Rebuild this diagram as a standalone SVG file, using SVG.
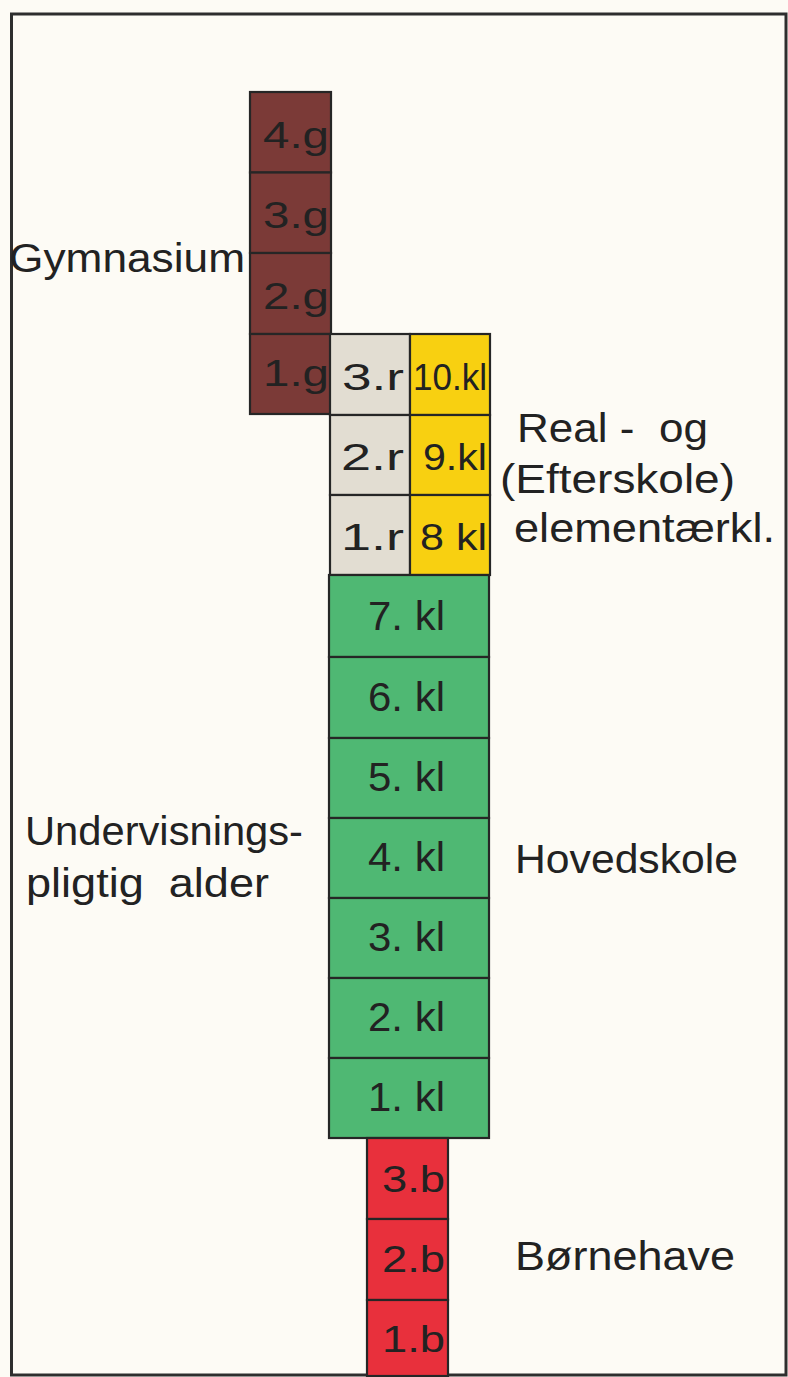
<svg xmlns="http://www.w3.org/2000/svg" width="788" height="1377" viewBox="0 0 788 1377">
<style>
.box{stroke:#262626;stroke-width:2.2}
.g{fill:#7b3a37}
.r{fill:#e2ddd2}
.y{fill:#f8d011}
.k{fill:#4fb873}
.b{fill:#e8303c}
text{font-family:"Liberation Sans","DejaVu Sans",sans-serif;fill:#222;font-size:37px;white-space:pre}
.lbl{font-size:41px}
</style>
<rect x="0" y="0" width="788" height="1377" fill="#fdfbf5"/>
<rect x="11.5" y="14" width="774.5" height="1361" fill="none" stroke="#2e2e2e" stroke-width="3"/>

<g id="gymnasium">
<g id="g4"><rect class="box g" x="250" y="92" width="81" height="80.5"/><text x="263" y="148" textLength="66" lengthAdjust="spacingAndGlyphs">4.g</text></g>
<g id="g3"><rect class="box g" x="250" y="172.5" width="81" height="80.5"/><text x="263" y="228" textLength="66" lengthAdjust="spacingAndGlyphs">3.g</text></g>
<g id="g2"><rect class="box g" x="250" y="253" width="81" height="81"/><text x="263" y="309" textLength="66" lengthAdjust="spacingAndGlyphs">2.g</text></g>
<g id="g1"><rect class="box g" x="250" y="334" width="81" height="80"/><text x="263" y="386" textLength="66" lengthAdjust="spacingAndGlyphs">1.g</text></g>
</g>

<g id="real">
<g id="r3"><rect class="box r" x="330" y="334" width="80" height="81"/><text x="342" y="390" textLength="62" lengthAdjust="spacingAndGlyphs">3.r</text></g>
<g id="r2"><rect class="box r" x="330" y="415" width="80" height="80"/><text x="341" y="470" textLength="63" lengthAdjust="spacingAndGlyphs">2.r</text></g>
<g id="r1"><rect class="box r" x="330" y="495" width="80" height="80"/><text x="341" y="550" textLength="63" lengthAdjust="spacingAndGlyphs">1.r</text></g>
</g>

<g id="elementaer">
<g id="kl10"><rect class="box y" x="410" y="334" width="80" height="81"/><text x="413" y="390" textLength="74" lengthAdjust="spacingAndGlyphs">10.kl</text></g>
<g id="kl9"><rect class="box y" x="410" y="415" width="80" height="80"/><text x="423" y="470" textLength="64" lengthAdjust="spacingAndGlyphs">9.kl</text></g>
<g id="kl8"><rect class="box y" x="410" y="495" width="80" height="80"/><text x="420" y="550" textLength="67" lengthAdjust="spacingAndGlyphs">8 kl</text></g>
</g>

<g id="hovedskole">
<g id="k7"><rect class="box k" x="329" y="575" width="160" height="82"/><text class="lbl" x="368" y="630" textLength="77" lengthAdjust="spacingAndGlyphs">7. kl</text></g>
<g id="k6"><rect class="box k" x="329" y="657" width="160" height="81"/><text class="lbl" x="368" y="711" textLength="77" lengthAdjust="spacingAndGlyphs">6. kl</text></g>
<g id="k5"><rect class="box k" x="329" y="738" width="160" height="80"/><text class="lbl" x="368" y="791" textLength="77" lengthAdjust="spacingAndGlyphs">5. kl</text></g>
<g id="k4"><rect class="box k" x="329" y="818" width="160" height="80"/><text class="lbl" x="368" y="871" textLength="77" lengthAdjust="spacingAndGlyphs">4. kl</text></g>
<g id="k3"><rect class="box k" x="329" y="898" width="160" height="80"/><text class="lbl" x="368" y="951" textLength="77" lengthAdjust="spacingAndGlyphs">3. kl</text></g>
<g id="k2"><rect class="box k" x="329" y="978" width="160" height="80"/><text class="lbl" x="368" y="1031" textLength="77" lengthAdjust="spacingAndGlyphs">2. kl</text></g>
<g id="k1"><rect class="box k" x="329" y="1058" width="160" height="80"/><text class="lbl" x="368" y="1111" textLength="77" lengthAdjust="spacingAndGlyphs">1. kl</text></g>
</g>

<g id="bornehave">
<g id="b3"><rect class="box b" x="367" y="1138" width="81" height="81"/><text x="382" y="1192" textLength="63" lengthAdjust="spacingAndGlyphs">3.b</text></g>
<g id="b2"><rect class="box b" x="367" y="1219" width="81" height="81"/><text x="382" y="1272" textLength="63" lengthAdjust="spacingAndGlyphs">2.b</text></g>
<g id="b1"><rect class="box b" x="367" y="1300" width="81" height="76"/><text x="382" y="1352" textLength="63" lengthAdjust="spacingAndGlyphs">1.b</text></g>
</g>

<g id="labels">
<text id="lbl-gym" class="lbl" x="9" y="272" textLength="236" lengthAdjust="spacingAndGlyphs">Gymnasium</text>
<text id="lbl-real1" class="lbl" x="517" y="442" textLength="191" lengthAdjust="spacingAndGlyphs">Real -  og</text>
<text id="lbl-real2" class="lbl" x="500" y="493" textLength="235" lengthAdjust="spacingAndGlyphs">(Efterskole)</text>
<text id="lbl-real3" class="lbl" x="514" y="542" textLength="261" lengthAdjust="spacingAndGlyphs">elementærkl.</text>
<text id="lbl-und1" class="lbl" x="25" y="845" textLength="278" lengthAdjust="spacingAndGlyphs">Undervisnings-</text>
<text id="lbl-und2" class="lbl" x="26" y="897" textLength="243" lengthAdjust="spacingAndGlyphs">pligtig  alder</text>
<text id="lbl-hoved" class="lbl" x="515" y="873" textLength="223" lengthAdjust="spacingAndGlyphs">Hovedskole</text>
<text id="lbl-born" class="lbl" x="515" y="1270" textLength="220" lengthAdjust="spacingAndGlyphs">Børnehave</text>
</g>
</svg>
